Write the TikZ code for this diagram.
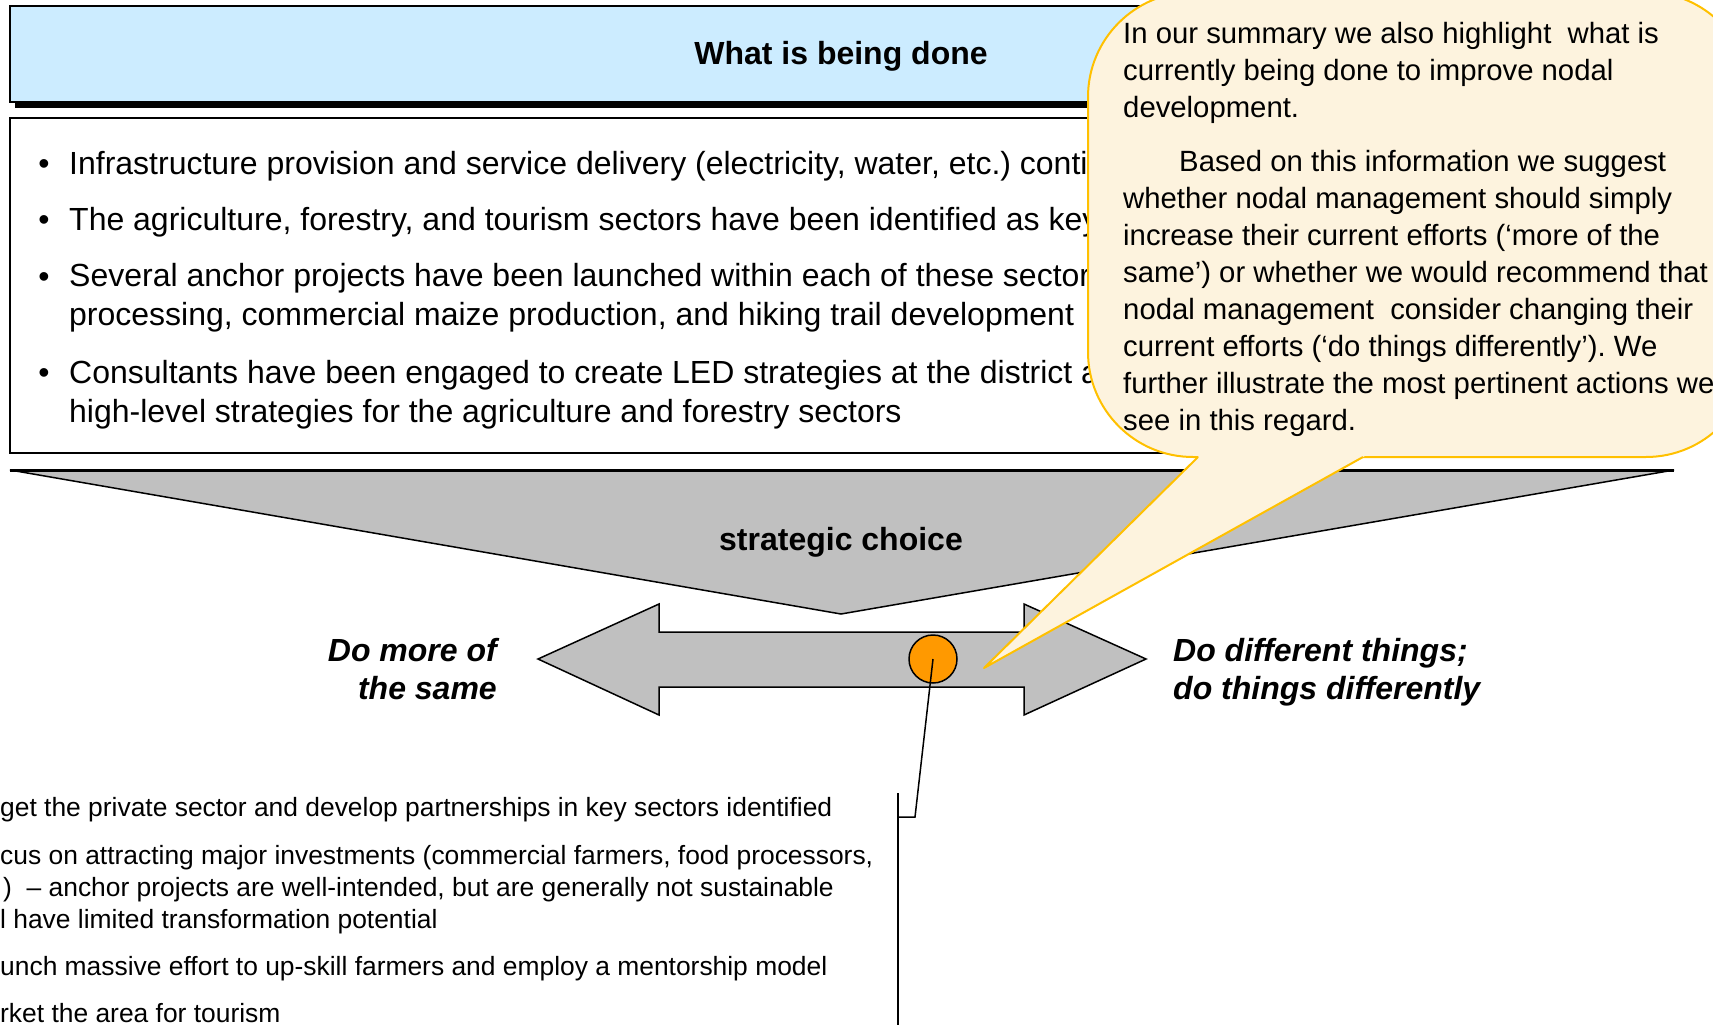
\documentclass[tikz,border=0pt]{standalone}
\usepackage{fontspec}
\setmainfont{Liberation Sans}
\frenchspacing
\definecolor{headblue}{HTML}{CCECFF}
\definecolor{choicegray}{HTML}{C0C0C0}
\definecolor{notefill}{HTML}{FDF3DE}
\definecolor{noteline}{HTML}{FFC000}
\definecolor{dotorange}{HTML}{FF9900}
\tikzset{
  shapeline/.style={draw=black, line width=1.5pt},
  graybox/.style={shapeline, fill=choicegray},
  itemtext/.style={anchor=base west, align=left, inner sep=0pt,
    font=\fontsize{32}{38.5}\selectfont},
  itemdot/.style={anchor=base, inner sep=0pt, font=\fontsize{32}{38.5}\selectfont},
  notetext/.style={anchor=base west, align=left, inner sep=0pt,
    font=\fontsize{29.3}{37}\selectfont},
  titletext/.style={anchor=base, inner sep=0pt, font=\fontsize{32}{38}\selectfont\bfseries},
  choicelabel/.style={inner sep=0pt, font=\fontsize{32}{38}\selectfont\bfseries\itshape},
  actiontext/.style={anchor=base west, align=left, inner sep=0pt,
    font=\fontsize{26.4}{32}\selectfont}
}
\begin{document}
\begin{tikzpicture}[x=1pt, y=-1pt]
  \useasboundingbox (0,0) rectangle (1713,1025);
  \clip (0,0) rectangle (1713,1025);
  \fill[black] (15,12) rectangle (1677,108);
  \draw[shapeline, fill=headblue] (10,6) rectangle (1672,102);
  \node[titletext] (donetitle) at (841,65) {What is being done};
  \draw[shapeline, line width=2pt] (10,118) rectangle (1672,453);
  \foreach \n/\y/\ylast/\txt in {
    1/174/174/{Infrastructure provision and service delivery (electricity, water, etc.) conti},
    2/230/230/{The agriculture, forestry, and tourism sectors have been identified as key},
    3/287/325/{Several anchor projects have been launched within each of these sectors\\processing, commercial maize production, and hiking trail development},
    4/383/422/{Consultants have been engaged to create LED strategies at the district a\\high-level strategies for the agriculture and forestry sectors}} {
    \node[itemdot] (dot\n) at (44,\y) {•};
    \node[itemtext] (item\n) at (69,\ylast) {\txt};
  }
  \draw[graybox] (10,470) -- (1674,470) -- (841,614) -- cycle;
  \draw[line width=3pt] (10,470) -- (1674,470);
  \node[titletext] (choicetitle) at (841,550) {strategic choice};
  \draw[graybox] (538,659) -- (659,604) -- (659,632) -- (1024,632) -- (1024,604)
    -- (1146,659) -- (1024,715) -- (1024,687) -- (659,687) -- (659,715) -- cycle;
  \node[choicelabel, anchor=base east, align=right] (samelabel) at (497,699)
    {Do more of\\the same};
  \node[choicelabel, anchor=base west, align=left] (difflabel) at (1173,699)
    {Do different things;\\do things differently};
  \node[circle, shapeline, fill=dotorange, minimum size=48pt, inner sep=0pt] (choicedot)
    at (933,659) {};
  \coordinate (legbend) at (915,817);
  \coordinate (legfoot) at (898,817);
  \coordinate (brackettop) at (898,793);
  \coordinate (bracketend) at (898,1030);
  \draw[line width=1.5pt] (choicedot.center) -- (legbend) -- (legfoot);
  \draw[line width=1.5pt] (brackettop) -- (bracketend);
  \node[actiontext] (actions) at (0,1022)
    {get the private sector and develop partnerships in key sectors identified\\[16pt]
     cus on attracting major investments (commercial farmers, food processors,\\
     \hspace*{3pt})~ – anchor projects are well-intended, but are generally not sustainable\\
     l have limited transformation potential\\[15pt]
     unch massive effort to up-skill farmers and employ a mentorship model\\[15pt]
     rket the area for tourism};
  \draw[fill=notefill, draw=noteline, line width=2pt, rounded corners=105pt]
    (1088,-8) rectangle (1751,457);
  \coordinate (noteleft) at (1198,457);
  \coordinate (noteright) at (1363,457);
  \coordinate (notetip) at (984,668);
  \fill[notefill] (1200,455) -- (notetip) -- (1366.6,455) -- cycle;
  \draw[noteline, line width=2pt, line join=round] (noteleft) -- (notetip) -- (noteright);
  \node[notetext] (notebody) at (1123,430)
    {In our summary we also highlight\ \ what is\\
     currently being done to improve nodal\\
     development.\\[17pt]
     \hspace*{56pt}Based on this information we suggest\\
     whether nodal management should simply\\
     increase their current efforts (‘more of the\\
     same’) or whether we would recommend that\\
     nodal management\ \ consider changing their\\
     current efforts (‘do things differently’). We\\
     further illustrate the most pertinent actions we\\
     see in this regard.};
\end{tikzpicture}
\end{document}
